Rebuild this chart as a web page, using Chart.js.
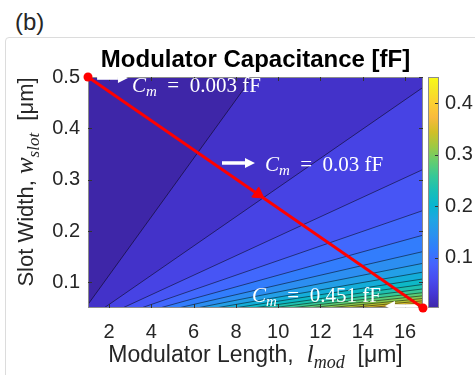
<!DOCTYPE html>
<html>
<head>
<meta charset="utf-8">
<script src="https://cdn.jsdelivr.net/npm/chart.js@4.4.0/dist/chart.umd.min.js"></script>
<style>
  html, body { margin: 0; padding: 0; background: #fff; }
  #wrap { position: relative; width: 475px; height: 375px; overflow: hidden; }
  #panel { position: absolute; left: 5px; top: 37px; width: 500px; height: 400px; border: 1px solid #dcdcdc; border-radius: 4px; }
  #tag { position: absolute; left: 15px; top: 8px; font: 24px "Liberation Sans", Arial, sans-serif; color: #262626; }
  canvas { position: absolute; left: 0; top: 0; }
</style>
</head>
<body>
<div id="wrap">
  <div id="panel"></div>
  <div id="tag">(b)</div>
  <canvas id="chart" width="475" height="375"></canvas>
</div>
<script>
// axis ranges, µm
const lengthRange = [1, 16.85];
const widthRange = [0.05, 0.5];
// capacitance range in fF (min at l=1, w=0.5 ; max at l=16.85, w=0.05)
const capRange = [0.0027, 0.451];

// contour levels of the filled plot (fF)
const contourLevels = [0.0235, 0.047, 0.0705, 0.094, 0.1175, 0.141, 0.1645, 0.188, 0.2115, 0.235,
  0.2585, 0.282, 0.3055, 0.329, 0.3525, 0.376, 0.3995, 0.423, 0.4465];

const xTicks = [2, 4, 6, 8, 10, 12, 14, 16];
const yTicks = [0.1, 0.2, 0.3, 0.4, 0.5];
const cbTicks = [0.1, 0.2, 0.3, 0.4];

// red design path and its arrow head
const pathL = [1, 16.85];
const pathW = [0.5, 0.05];
const pathHeadL = [9.05];
const pathHeadW = [0.272];

// labelled points
const noteValues = ['0.003', '0.03', '0.451'];

// where the labels go (data coords): text start, arrow from -> to
const notes = [
  { tx: 3.08, ty: 0.4708, ax: [1.43, 2.89], ay: 0.498 },
  { tx: 9.37, ty: 0.3169, ax: [7.34, 8.90], ay: 0.3325 },
  { tx: 8.76, ty: 0.0617, ax: [16.61, 15.05], ay: 0.0539 }
];

// parula (R2014b) colour map, every 4th entry of 64
const parulaStops = [[62,38,168],[69,55,213],[72,77,240],[69,99,253],[50,124,252],[43,145,239],
  [32,165,227],[8,181,208],[25,191,182],[55,200,151],[100,205,111],[157,201,67],[209,191,39],
  [248,186,61],[252,208,48],[245,233,36],[249,251,21]];
const parulaPos = [0,4,8,12,16,20,24,28,32,36,40,44,48,52,56,60,63].map(i => i / 63);

function parula(t) {
    t = Math.min(1, Math.max(0, t));
    let i = 0;
    while (i < parulaPos.length - 2 && t > parulaPos[i + 1]) i++;
    const f = (t - parulaPos[i]) / (parulaPos[i + 1] - parulaPos[i]);
    const c = parulaStops[i].map((v, j) => Math.round(v + (parulaStops[i + 1][j] - v) * f));
    return `rgb(${c.join(",")})`;
}

function capColor(c) {
    return parula((c - capRange[0]) / (capRange[1] - capRange[0]));
}

// C = k * l / w  -> contour line w = k * l / C
const k = capRange[1] * widthRange[0] / lengthRange[1];

const contourSets = contourLevels.map((c, i) => ({
    data: lengthRange.map(l => ({ x: l, y: k * l / c })),
    borderColor: "rgba(0,0,0,0.85)",
    borderWidth: 0.6,
    pointRadius: 0,
    fill: "start",
    backgroundColor: capColor(c),
    order: contourLevels.length - i + 2,
}));

const RED = "#ff0000";
const TEXT = "#262626";
const SANS = '"Liberation Sans", Arial, sans-serif';
const SERIF = '"Liberation Serif", "Times New Roman", serif';

function drawRich(ctx, parts, x, y, align) {
    let total = 0;
    parts.forEach(p => { ctx.font = p[1]; total += ctx.measureText(p[0]).width; });
    let cx = align === "center" ? x - total / 2 : x;
    parts.forEach(p => {
        ctx.font = p[1];
        ctx.fillText(p[0], cx, y + (p[2] || 0));
        cx += ctx.measureText(p[0]).width;
    });
}

function whiteArrow(ctx, x0, x1, y) {
    const dir = Math.sign(x1 - x0);
    const head = 10;
    ctx.strokeStyle = "#fff";
    ctx.fillStyle = "#fff";
    ctx.lineWidth = 3.5;
    ctx.beginPath();
    ctx.moveTo(x0, y);
    ctx.lineTo(x1 - dir * head, y);
    ctx.stroke();
    ctx.beginPath();
    ctx.moveTo(x1, y);
    ctx.lineTo(x1 - dir * head, y - 5);
    ctx.lineTo(x1 - dir * head, y + 5);
    ctx.closePath();
    ctx.fill();
}

const decor = {
    id: "decor",
    beforeDatasetsDraw(chart) {
        const { ctx, chartArea: a } = chart;
        ctx.save();
        ctx.fillStyle = capColor(capRange[0]);
        ctx.fillRect(a.left, a.top, a.width, a.height);
        ctx.restore();
    },
    afterDatasetDraw(chart, args) {
        if (args.index !== contourLevels.length - 1) return;
        const { ctx, chartArea: a } = chart;
        const xs = chart.scales.x, ys = chart.scales.y;
        ctx.save();
        // frame + inside ticks
        ctx.strokeStyle = "#8c8c8c";
        ctx.lineWidth = 1;
        ctx.strokeRect(a.left + 0.5, a.top + 0.5, a.width - 1, a.height - 1);
        ctx.strokeStyle = "#333";
        ctx.beginPath();
        xTicks.forEach(v => {
            const px = Math.round(xs.getPixelForValue(v)) + 0.5;
            ctx.moveTo(px, a.bottom); ctx.lineTo(px, a.bottom - 4);
            ctx.moveTo(px, a.top); ctx.lineTo(px, a.top + 4);
        });
        yTicks.forEach(v => {
            const py = Math.round(ys.getPixelForValue(v)) + 0.5;
            ctx.moveTo(a.left, py); ctx.lineTo(a.left + 4, py);
            ctx.moveTo(a.right, py); ctx.lineTo(a.right - 4, py);
        });
        ctx.stroke();
        // labelled arrows
        notes.forEach((n, i) => {
            whiteArrow(ctx, xs.getPixelForValue(n.ax[0]), xs.getPixelForValue(n.ax[1]), ys.getPixelForValue(n.ay));
            ctx.fillStyle = "#fff";
            ctx.textBaseline = "alphabetic";
            drawRich(ctx, [
                ["C", "italic 21px " + SERIF],
                ["m", "italic 15px " + SERIF, 4],
                ["  =  " + noteValues[i] + " fF", "21px " + SERIF]
            ], xs.getPixelForValue(n.tx), ys.getPixelForValue(n.ty), "left");
        });
        ctx.restore();
    },
    afterDraw(chart) {
        const { ctx, chartArea: a } = chart;
        const cb = chart.scales.cb;
        ctx.save();
        // colour bar
        const top = cb.getPixelForValue(capRange[1]), bot = cb.getPixelForValue(capRange[0]);
        const g = ctx.createLinearGradient(0, bot, 0, top);
        parulaStops.forEach((c, i) => g.addColorStop(parulaPos[i], `rgb(${c.join(",")})`));
        ctx.fillStyle = g;
        ctx.fillRect(a.right + 5, top, 10, bot - top);
        ctx.strokeStyle = "#8c8c8c";
        ctx.lineWidth = 1;
        ctx.strokeRect(a.right + 5.5, top + 0.5, 10, bot - top - 1);
        ctx.strokeStyle = "#333";
        ctx.beginPath();
        cbTicks.forEach(v => {
            const py = Math.round(cb.getPixelForValue(v)) + 0.5;
            ctx.moveTo(a.right + 15, py); ctx.lineTo(a.right + 12, py);
        });
        ctx.stroke();
        // title
        ctx.fillStyle = "#000";
        ctx.textAlign = "center";
        ctx.textBaseline = "alphabetic";
        ctx.font = "bold 24px " + SANS;
        ctx.fillText("Modulator Capacitance [fF]", (a.left + a.right) / 2, 67);
        ctx.textAlign = "left";
        ctx.fillStyle = TEXT;
        // x axis title
        drawRich(ctx, [
            ["Modulator Length,  ", "23px " + SANS],
            ["l", "italic 26px " + SERIF],
            ["mod", "italic 18px " + SERIF, 6],
            ["  [μm]", "23px " + SANS]
        ], (a.left + a.right) / 2, 362, "center");
        // y axis title
        ctx.translate(33, 182);
        ctx.rotate(-Math.PI / 2);
        drawRich(ctx, [
            ["Slot Width, ", "22px " + SANS],
            ["w", "italic 25px " + SERIF],
            ["slot", "italic 17px " + SERIF, 6],
            ["  [μm]", "22px " + SANS]
        ], 0, 0, "center");
        ctx.restore();
    }
};

const tickFont = { family: "Liberation Sans", size: 20 };

new Chart(document.getElementById("chart"), {
    type: "line",
    data: {
        datasets: [
            ...contourSets,
            {
                data: pathL.map((l, i) => ({ x: l, y: pathW[i] })),
                borderColor: RED,
                borderWidth: 2.8,
                pointRadius: 4.5,
                pointBackgroundColor: RED,
                pointBorderWidth: 0,
                fill: false,
                clip: false,
                order: 1,
            },
            {
                data: pathHeadL.map((l, i) => ({ x: l, y: pathHeadW[i] })),
                showLine: false,
                pointStyle: "triangle",
                pointRadius: 7,
                pointRotation: 124.6,
                pointBackgroundColor: RED,
                pointBorderColor: RED,
                fill: false,
                order: 0,
            },
        ],
    },
    options: {
        responsive: false,
        animation: false,
        layout: { padding: { top: 77, left: 0, right: 0, bottom: 0 } },
        plugins: {
            legend: { display: false },
            tooltip: { enabled: false },
        },
        scales: {
            x: {
                type: "linear",
                min: lengthRange[0],
                max: lengthRange[1],
                afterBuildTicks: s => { s.ticks = xTicks.map(v => ({ value: v })); },
                afterFit: s => { s.height = 67; },
                grid: { display: false, drawTicks: false },
                border: { display: false },
                ticks: { font: tickFont, color: TEXT, padding: 12, maxRotation: 0, autoSkip: false },
            },
            y: {
                type: "linear",
                min: widthRange[0],
                max: widthRange[1],
                afterBuildTicks: s => { s.ticks = yTicks.map(v => ({ value: v })); },
                afterFit: s => { s.width = 88; },
                grid: { display: false, drawTicks: false },
                border: { display: false },
                ticks: { font: tickFont, color: TEXT, padding: 8, autoSkip: false },
            },
            cb: {
                type: "linear",
                axis: "y",
                position: "right",
                min: capRange[0],
                max: capRange[1],
                afterBuildTicks: s => { s.ticks = cbTicks.map(v => ({ value: v })); },
                afterFit: s => { s.width = 52; },
                grid: { display: false, drawTicks: false },
                border: { display: false },
                ticks: { font: tickFont, color: TEXT, padding: 22, autoSkip: false },
            },
        },
    },
    plugins: [decor],
});
</script>
</body>
</html>
